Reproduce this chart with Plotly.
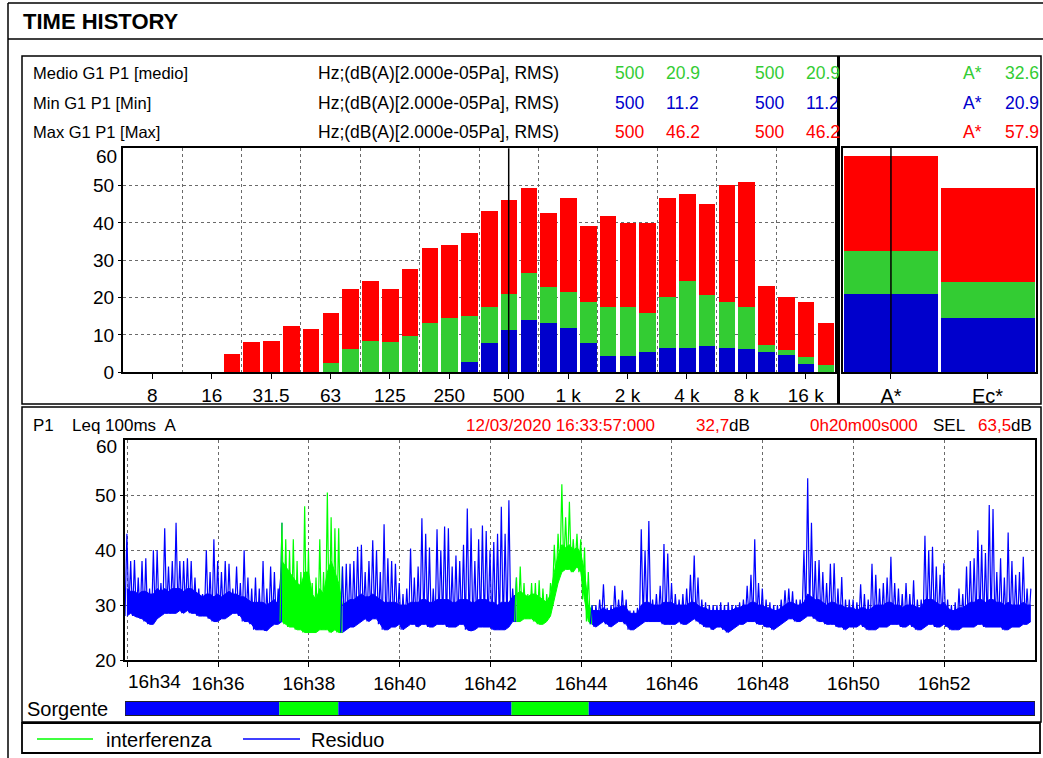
import plotly.graph_objects as go
import pandas as pd

W, H = 1043, 758
FONT = "Liberation Sans, Arial, sans-serif"


def px(x):
    return x / W


def py(y):
    return 1 - y / H


# ---------------- data: 1/3 octave spectrum ----------------
BANDS = ["6.3", "8", "10", "12.5", "16", "20", "25", "31.5", "40", "50", "63", "80",
         "100", "125", "160", "200", "250", "315", "400", "500", "630", "800", "1k",
         "1.25k", "1.6k", "2k", "2.5k", "3.15k", "4k", "5k", "6.3k", "8k", "10k",
         "12.5k", "16k", "20k"]
SPEC_MAX = [0, 0, 0, 0, 0, 4.8, 8.1, 8.3, 12.3, 11.5, 15.9, 22.2,
            24.3, 22.2, 27.6, 33.2, 33.9, 37.1, 43.0, 46.2, 49.4, 42.5, 46.7,
            39.0, 41.7, 39.8, 39.8, 46.5, 47.8, 45.1, 50.2, 50.8, 23.0,
            20.0, 18.7, 13.1]
SPEC_MEDIO = [0, 0, 0, 0, 0, 0, 0, 0, 0, 0, 2.5, 6.2,
              8.4, 8.1, 9.7, 13.2, 14.4, 15.0, 17.5, 20.9, 26.5, 22.8, 21.4,
              18.7, 17.5, 17.5, 15.9, 20.1, 24.3, 20.7, 18.7, 17.5, 7.2,
              5.9, 4.0, 1.9]
SPEC_MIN = [0, 0, 0, 0, 0, 0, 0, 0, 0, 0, 0, 0,
            0, 0, 0, 0, 0, 2.7, 7.8, 11.2, 13.9, 13.2, 11.8,
            7.8, 4.3, 4.3, 5.3, 6.4, 6.4, 6.9, 6.4, 6.1, 5.3,
            4.5, 2.1, 0]
BAND_TICK_NAMES = ["8", "16", "31.5", "63", "125", "250", "500", "1k", "2k", "4k", "8k", "16k"]
BAND_TICK_TEXT = ["8", "16", "31.5", "63", "125", "250", "500", "1 k", "2 k", "4 k", "8 k", "16 k"]
CURSOR_BAND = "500"
SPEC_Y_TICKS = [0, 10, 20, 30, 40, 50, 60]

TOTAL_CATS = ["A*", "Ec*"]
TOTAL_MAX = [57.9, 49.2]
TOTAL_MEDIO = [32.6, 24.2]
TOTAL_MIN = [20.9, 14.6]

# ---------------- data: time history (Leq 100ms A), per 5 s bucket ----------------
START = "2020-03-12 16:33:57"
END = "2020-03-12 16:54:00"
BUCKET_S = 5
# highest value in each bucket
TH_HI = [
    43, 38, 38.2, 35, 38, 38.5, 33, 40, 40, 34, 44, 37,
    38, 45, 38, 38, 38.5, 38, 35, 33, 32, 40, 36, 42,
    38, 36, 38, 37.5, 33, 37, 34, 40, 35, 33, 35, 33,
    38, 33, 37, 36, 33, 45, 42, 40, 42, 38, 36, 48,
    40, 34, 35, 42, 36, 50.5, 46, 44, 44, 37, 37.5, 37.5,
    38, 40.6, 41, 36, 38, 41.8, 40, 36, 44.7, 38.5, 38, 37.5,
    34, 32, 33, 40.3, 35, 37, 45.8, 43, 40.5, 33, 43.8, 40,
    44.3, 44, 37, 39, 38, 41, 47.6, 44, 38, 42, 44.5, 43.5,
    40, 41.5, 43, 47.9, 43, 49.1, 33, 35, 37, 34, 32, 34,
    34, 34.5, 33, 32, 34, 41, 43, 52, 46, 48.8, 42, 43,
    42, 40.5, 36, 30, 30, 31, 33.8, 29.5, 30, 33.5, 31, 32.7,
    31, 29, 29, 29.5, 43.8, 40, 45.3, 31, 32, 33.5, 41.1, 39.4,
    34, 32, 31, 32, 33, 35.5, 39, 35, 31, 30.5, 30, 30,
    30, 30.5, 30, 30.5, 30, 30, 30.5, 31, 33.5, 35.5, 42, 34,
    33, 31, 30.5, 30, 30, 31, 32.7, 33, 32.5, 31, 31, 40,
    53.1, 45, 38, 38.2, 36, 34, 37.5, 37.6, 33, 35.1, 31, 31,
    31, 30.5, 33.8, 32, 31, 37.5, 35.5, 33, 34, 35, 38.8, 34,
    33, 32, 34, 32, 34.5, 31, 31, 42.6, 40, 40.6, 37, 35.5,
    37.6, 31, 30, 30.5, 33, 32, 37, 38, 38.5, 43.6, 41, 39.5,
    48.2, 47.5, 36, 38.5, 35, 43.2, 38, 35.5, 36, 38.8, 33, 33,
]
# upper edge of the dense band in each bucket
TH_MID = [
    33, 32.5, 32.5, 32, 32.5, 32.5, 32, 32, 33, 32.5, 33, 32.5,
    33, 33, 33, 32.5, 33, 33, 32.5, 32, 31.5, 32, 32, 31.5,
    32, 31.5, 32, 32.5, 32, 32, 31.5, 31.5, 31, 30.5, 30.5, 30.5,
    30.5, 30, 30.5, 31, 30, 38, 37, 36, 35, 34, 33.5, 36,
    36, 32, 31, 33, 32, 36, 38, 36, 34, 30, 30.5, 31,
    31, 31.5, 32, 31.5, 31.5, 32, 31.5, 31, 30.5, 30.5, 30.5, 30.5,
    30, 30, 30, 30.5, 30.5, 30.5, 31, 31, 30.5, 30.5, 31, 31,
    31, 31, 30.5, 30.5, 31, 31, 31, 30.5, 30.5, 31, 31, 31,
    30.5, 30.5, 30, 30.5, 30.5, 30.5, 31.5, 32, 32.5, 32, 31.5, 32,
    32, 31.5, 31, 30.5, 32, 36, 39, 41, 40.5, 41, 40, 40.5,
    39.5, 36, 30, 29, 29, 29, 29.5, 29, 29, 29.5, 29.5, 30,
    29.5, 28.5, 28.5, 28.5, 30, 30.5, 30.5, 30, 30, 30, 30.5, 30.5,
    30.5, 30, 30, 30, 30, 30.5, 30.5, 30, 29.5, 29.5, 29, 29,
    29, 29, 29, 29, 29, 29.5, 29.5, 30, 30, 30.5, 30.5, 30,
    30, 29.5, 29.5, 29, 29, 29.5, 30, 30.5, 30.5, 30, 30, 30.5,
    32, 31.5, 31, 31, 30.5, 30, 30.5, 30.5, 30, 30, 29.5, 29.5,
    29.5, 29, 29.5, 29.5, 29, 29.5, 30, 30, 30, 30.5, 30.5, 30,
    30, 29.5, 30, 30, 30, 29.5, 29.5, 31, 31, 31, 30.5, 30,
    30.5, 29.5, 29, 29, 29.5, 29.5, 30, 30.5, 30.5, 31, 31, 30.5,
    31, 31, 30.5, 30.5, 30, 30.5, 30, 30, 30, 30.5, 30, 30,
]
# lowest value in each bucket
TH_LO = [
    28, 28.5, 28, 27.8, 27.5, 27, 26.5, 26.5, 27.5, 28, 28.5, 28.5,
    28.5, 28.5, 29, 28.5, 29, 28.5, 28.5, 28, 28, 28, 27.5, 27,
    27, 27.5, 27.5, 28, 28.5, 28.5, 28, 27, 27, 26.5, 25.5, 25.5,
    25.5, 25.3, 26, 26.5, 26.5, 27, 26.5, 26, 26, 25.5, 25.5, 25,
    25, 25, 25, 25.5, 25.5, 25.5, 25, 25.5, 25, 25, 25.5, 26,
    26, 26.5, 27, 27.5, 27, 27.5, 27.5, 26.5, 25.5, 25.5, 26, 26,
    26.5, 25.5, 26, 26.5, 26.5, 26, 26.5, 26.5, 26, 26, 26.5, 26.5,
    26.5, 26, 26, 26, 26.5, 26.5, 25.5, 25.3, 25.5, 26, 26, 26,
    26, 25.5, 25.5, 25.5, 25.5, 26, 27, 27, 27, 27.5, 27.5, 27.5,
    27, 26.5, 26.5, 27, 28, 31, 34, 36, 36.5, 36.5, 36, 37,
    36, 31, 27, 26.5, 26, 26.5, 27, 26.5, 26, 26.5, 27, 27,
    26.5, 25.5, 25.5, 26, 26.5, 27, 27, 27, 27, 27, 26.5, 26.5,
    26.5, 26.5, 27, 26.5, 26.5, 27, 27.5, 27, 26.5, 26, 26, 25.5,
    26, 26, 25.5, 25, 25.5, 26, 26.5, 26.5, 27, 27, 27, 26.5,
    26.5, 26, 26, 25.5, 26, 26.5, 27, 27.5, 27.5, 27, 27, 27.5,
    28, 28, 27.5, 27, 27, 26.5, 26.5, 26.5, 26, 26, 25.5, 26,
    26, 26, 26.5, 26, 25.5, 25.5, 25.5, 26, 26, 26, 26.5, 26.5,
    26.5, 26, 26, 26.5, 26, 25.5, 25.5, 26, 26.5, 26.5, 26, 26,
    26.5, 26, 25.5, 25.5, 25.5, 26, 26, 26, 26, 26.5, 26.5, 26,
    26, 26, 26, 26, 25.5, 25.5, 26, 26, 26, 26.5, 26.5, 27,
]
TIME_TICKS = ["16:34", "16:36", "16:38", "16:40", "16:42", "16:44", "16:46", "16:48", "16:50", "16:52"]
TIME_TICK_TEXT = ["16h34", "16h36", "16h38", "16h40", "16h42", "16h44", "16h46", "16h48", "16h50", "16h52"]
TH_Y_TICKS = [20, 30, 40, 50, 60]

SOURCE_LABELS = ["Residuo", "interferenza", "Residuo", "interferenza", "Residuo"]
SOURCE_STARTS = ["16:33:57", "16:37:21", "16:38:39", "16:42:28", "16:44:10"]
SOURCE_END = "16:54:00"
LEGEND_ORDER = ["interferenza", "Residuo"]

# ---------------- styles ----------------
RED = "#FF0000"
GREEN_BAR = "#33CC33"
BLUE_BAR = "#0000CC"
SRC_COLORS = {"Residuo": "#0000FF", "interferenza": "#00FF00"}
GRID = "#6a6a6a"

fig = go.Figure()

# spectrum bars (overlaid: max behind, medio, min in front)
idx = list(range(len(BANDS)))
for vals, col in [(SPEC_MAX, RED), (SPEC_MEDIO, GREEN_BAR), (SPEC_MIN, BLUE_BAR)]:
    fig.add_trace(go.Bar(x=idx, y=vals, width=0.84, marker=dict(color=col, line=dict(width=0)),
                         xaxis="x", yaxis="y", showlegend=False, hoverinfo="skip"))

for vals, col in [(TOTAL_MAX, RED), (TOTAL_MEDIO, GREEN_BAR), (TOTAL_MIN, BLUE_BAR)]:
    fig.add_trace(go.Bar(x=TOTAL_CATS, y=vals, width=0.975, marker=dict(color=col, line=dict(width=0)),
                         xaxis="x2", yaxis="y2", showlegend=False, hoverinfo="skip"))

# time history: dense band (min..band top) plus min/max zigzag per bucket
t0 = pd.Timestamp(START)
t_lo = [t0 + pd.Timedelta(seconds=k * BUCKET_S) for k in range(len(TH_HI))]
t_hi = [t0 + pd.Timedelta(seconds=k * BUCKET_S + BUCKET_S / 2) for k in range(len(TH_HI))]
day = START[:10]
seg_starts = [pd.Timestamp(f"{day} {s}") for s in SOURCE_STARTS]
seg_ends = seg_starts[1:] + [pd.Timestamp(f"{day} {SOURCE_END}")]
for lab, s, e in zip(SOURCE_LABELS, seg_starts, seg_ends):
    col = SRC_COLORS[lab]
    sel = [k for k, t in enumerate(t_lo) if s <= t < e]
    if not sel:
        continue
    ext = sel + ([sel[-1] + 1] if sel[-1] + 1 < len(t_lo) else [])
    bx = [t_hi[k] for k in ext]
    fig.add_trace(go.Scatter(x=bx, y=[TH_LO[k] for k in ext], mode="lines",
                             line=dict(color=col, width=1), xaxis="x3", yaxis="y3",
                             showlegend=False, hoverinfo="skip"))
    fig.add_trace(go.Scatter(x=bx, y=[TH_MID[k] for k in ext], mode="lines",
                             line=dict(color=col, width=1), fill="tonexty", fillcolor=col,
                             xaxis="x3", yaxis="y3", showlegend=False, hoverinfo="skip"))
    xs, ys = [], []
    for k in ext:
        xs += [t_lo[k], t_hi[k]]
        ys += [TH_LO[k], TH_HI[k]]
    fig.add_trace(go.Scatter(x=xs, y=ys, mode="lines", line=dict(color=col, width=1.2),
                             xaxis="x3", yaxis="y3", showlegend=False, hoverinfo="skip"))

tick_font = dict(family=FONT, size=19, color="black")
axis_common = dict(showline=True, mirror=True, linecolor="black", zeroline=False,
                   tickfont=tick_font, tickcolor="black", automargin=False)

fig.update_layout(
    width=W, height=H, autosize=False,
    margin=dict(l=0, r=0, t=0, b=0, pad=0, autoexpand=False),
    paper_bgcolor="white", plot_bgcolor="white", barmode="overlay", bargap=0,
    showlegend=False,
    font=dict(family=FONT, color="black"),
    xaxis=dict(domain=[px(122.6), px(835.4)], range=[-0.5, len(BANDS) - 0.5],
               tickmode="array", tickvals=[BANDS.index(n) for n in BAND_TICK_NAMES],
               ticktext=BAND_TICK_TEXT, ticks="outside", ticklen=5, showgrid=False,
               minor=dict(tickmode="array", tickvals=[i + 0.5 for i in range(2, len(BANDS) - 1, 3)],
                          showgrid=True, gridcolor=GRID, griddash="dot", gridwidth=1, ticks=""),
               linewidth=1.5, anchor="y", **axis_common),
    yaxis=dict(domain=[py(372.3), py(148.3)], range=[0, 60], tickmode="array",
               tickvals=SPEC_Y_TICKS[:-1], ticks="outside", ticklen=3,
               showgrid=True, gridcolor=GRID, griddash="dot", gridwidth=1, linewidth=1.5,
               anchor="x", **axis_common),
    xaxis2=dict(domain=[px(842.7), px(1035.7)], type="category", range=[-0.5, 1.5],
                ticks="outside", ticklen=5, showgrid=False, linewidth=1.5, anchor="y2",
                **{**axis_common, "tickfont": dict(family=FONT, size=20, color="black")}),
    yaxis2=dict(domain=[py(372.3), py(147.5)], range=[0, 60], showticklabels=False, ticks="",
                showgrid=False, linewidth=1.5, anchor="x2", **axis_common),
    xaxis3=dict(domain=[px(125), px(1035)], type="date", range=[START, END],
                tickmode="array", tickvals=[f"{day} {t}:00" for t in TIME_TICKS],
                ticktext=[""] + TIME_TICK_TEXT[1:], ticks="outside", ticklen=5,
                showgrid=True, gridcolor=GRID, griddash="dot", gridwidth=1, linewidth=2,
                anchor="y3", **axis_common),
    yaxis3=dict(domain=[py(660), py(440.3)], range=[20, 60], tickmode="array",
                tickvals=TH_Y_TICKS[:-1], ticks="outside", ticklen=3,
                showgrid=True, gridcolor=GRID, griddash="dot", gridwidth=1, linewidth=2,
                anchor="x3", **axis_common),
)

shapes = []


def pline(x0, y0, x1, y1, w=1.5, color="black"):
    shapes.append(dict(type="line", xref="paper", yref="paper", x0=px(x0), y0=py(y0),
                       x1=px(x1), y1=py(y1), line=dict(color=color, width=w)))


def prect(x0, y0, x1, y1, w=1.5):
    shapes.append(dict(type="rect", xref="paper", yref="paper", x0=px(x0), y0=py(y0),
                       x1=px(x1), y1=py(y1), line=dict(color="black", width=w)))


# page frames
pline(8, 3, 1043, 3)
pline(8, 39, 1043, 39)
pline(8, 3, 8, 758)
prect(22, 56, 1041, 404)
pline(838.5, 56, 838.5, 404, w=3)
prect(22, 407, 1041, 722)
prect(22, 723, 1040, 753, w=1.8)

# cursors
shapes.append(dict(type="line", xref="x", yref="y domain", x0=BANDS.index(CURSOR_BAND),
                   x1=BANDS.index(CURSOR_BAND), y0=0, y1=1, line=dict(color="black", width=1.5)))
shapes.append(dict(type="line", xref="x2", yref="y2 domain", x0=0, x1=0, y0=0, y1=1,
                   line=dict(color="black", width=1.5)))

# Sorgente bar
for lab, s, e in zip(SOURCE_LABELS, seg_starts, seg_ends):
    shapes.append(dict(type="rect", xref="x3", yref="paper", x0=s, x1=e, y0=py(715), y1=py(702),
                       fillcolor=SRC_COLORS[lab], line=dict(width=0), layer="above"))
shapes.append(dict(type="rect", xref="x3", yref="paper", x0=seg_starts[0], x1=seg_ends[-1],
                   y0=py(715.5), y1=py(701.5), line=dict(color="#222", width=1.2)))

# legend lines
pline(37, 739, 93, 739, w=1.5, color=SRC_COLORS[LEGEND_ORDER[0]])
pline(243, 739, 300, 739, w=1.5, color=SRC_COLORS[LEGEND_ORDER[1]])

fig.update_layout(shapes=shapes)

ann = []


def text(x, y, s, size=17, color="black", anchor="left", bold=False, family=FONT):
    ann.append(dict(xref="paper", yref="paper", x=px(x), y=py(y), text=s, showarrow=False,
                    xanchor=anchor, yanchor="middle",
                    font=dict(family=family, size=size, color=color, weight="bold" if bold else "normal")))


text(21, 21, "TIME HISTORY", size=22, bold=True)

rows = [("Medio G1 P1 [medio]", GREEN_BAR, SPEC_MEDIO, TOTAL_MEDIO[0], 73.3),
        ("Min G1 P1 [Min]", BLUE_BAR, SPEC_MIN, TOTAL_MIN[0], 103.3),
        ("Max G1 P1 [Max]", RED, SPEC_MAX, TOTAL_MAX[0], 131.7)]
ci = BANDS.index(CURSOR_BAND)
for lab, col, arr, tot, yy in rows:
    text(31, yy, lab, size=16.5)
    text(316, yy, "Hz;(dB(A)[2.000e-05Pa], RMS)", size=17.5)
    text(613, yy, CURSOR_BAND, size=17.5, color=col)
    text(664, yy, f"{arr[ci]:.1f}", size=17.5, color=col)
    text(753, yy, CURSOR_BAND, size=17.5, color=col)
    text(804, yy, f"{arr[ci]:.1f}", size=17.5, color=col)
    text(961, yy, "A*", size=17.5, color=col)
    text(1003, yy, f"{tot:.1f}", size=17.5, color=col)

# end-of-axis labels drawn slightly inside, as in the original
text(119, 156, str(SPEC_Y_TICKS[-1]), size=19, anchor="right")
text(119, 446, str(TH_Y_TICKS[-1]), size=19, anchor="right")
text(126, 681, TIME_TICK_TEXT[0], size=19, anchor="left")

yy = 425
text(31, yy, "P1", size=17)
text(70, yy, "Leq 100ms  A", size=17)
text(464, yy, "12/03/2020 16:33:57:000", size=17, color=RED)
text(694, yy, "32,7<span style='color:black'>dB</span>", size=17, color=RED)
text(808, yy, "0h20m00s000", size=17, color=RED)
text(931, yy, "SEL", size=17)
text(976, yy, "63,5<span style='color:black'>dB</span>", size=17, color=RED)

text(25, 709, "Sorgente", size=20)
text(104, 740, LEGEND_ORDER[0], size=20)
text(309, 740, LEGEND_ORDER[1], size=20)

fig.update_layout(annotations=ann)

fig.write_html("out.html", config={"displayModeBar": False},
               post_script="document.body.style.margin='0';document.body.style.overflow='hidden';")
